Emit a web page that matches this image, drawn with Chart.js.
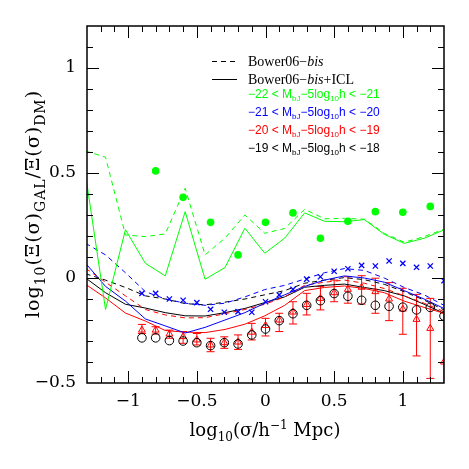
<!DOCTYPE html>
<html>
<head>
<meta charset="utf-8">
<script src="https://cdn.jsdelivr.net/npm/chart.js@4.4.0/dist/chart.umd.min.js"></script>
<style>
  html, body { margin: 0; padding: 0; background: #fff; }
</style>
</head>
<body>
<canvas id="chart" width="469" height="469"></canvas>
<script>
// model curves (Bower06-bis), sampled on a log grid
const modelX = [-1.31, -1.165, -1.02, -0.875, -0.73, -0.585, -0.44, -0.295, -0.15, -0.005,
  0.14, 0.285, 0.43, 0.575, 0.72, 0.865, 1.01, 1.155, 1.30];
const greenDashed = [0.605, 0.575, 0.205, 0.197, 0.21, 0.427, 0.11, 0.19, 0.30, 0.213,
  0.236, 0.327, 0.282, 0.284, 0.28, 0.213, 0.17, 0.197, 0.232];
const greenSolid = [0.49, -0.15, 0.23, 0.07, 0.01, 0.316, -0.006, 0.05, 0.237, 0.118,
  0.19, 0.31, 0.27, 0.268, 0.278, 0.208, 0.165, 0.189, 0.229];
const blueDashed = [0.165, 0.11, 0.025, -0.065, -0.10, -0.12, -0.13, -0.12, -0.09, -0.055,
  -0.035, -0.005, 0.025, 0.045, 0.036, 0.0, -0.045, -0.08, -0.13];
const blueSolid = [0.07, -0.04, -0.11, -0.195, -0.228, -0.262, -0.235, -0.20, -0.165, -0.12,
  -0.08, -0.04, -0.01, 0.01, 0.0, -0.02, -0.06, -0.10, -0.145];
const redDashed = [0.046, -0.02, -0.085, -0.15, -0.176, -0.19, -0.189, -0.17, -0.15, -0.125,
  -0.09, -0.035, -0.02, -0.01, -0.025, -0.05, -0.085, -0.12, -0.16];
const redSolid = [-0.03, -0.095, -0.167, -0.205, -0.25, -0.258, -0.26, -0.245, -0.22, -0.18,
  -0.13, -0.06, -0.045, -0.038, -0.05, -0.07, -0.11, -0.14, -0.168];
const blackDashed = [0.02, -0.01, -0.045, -0.085, -0.10, -0.122, -0.128, -0.115, -0.10, -0.08,
  -0.06, -0.025, -0.01, 0.002, -0.008, -0.03, -0.065, -0.105, -0.152];
const blackSolid = [0.0, -0.07, -0.125, -0.143, -0.165, -0.18, -0.181, -0.165, -0.145, -0.117,
  -0.09, -0.044, -0.035, -0.029, -0.045, -0.06, -0.085, -0.125, -0.168];

// observed points
const greenDotX = [-0.8, -0.6, -0.4, -0.2, 0, 0.2, 0.4, 0.6, 0.8, 1.0, 1.2];
const greenDotY = [0.51, 0.384, 0.265, 0.11, 0.265, 0.31, 0.189, 0.27, 0.316, 0.313, 0.341];
const obsX = [-0.9, -0.8, -0.7, -0.6, -0.5, -0.4, -0.3, -0.2, -0.1, 0, 0.1, 0.2,
  0.3, 0.4, 0.5, 0.6, 0.7, 0.8, 0.9, 1.0, 1.1, 1.2, 1.3];
const blueCrossY = [-0.073, -0.073, -0.10, -0.106, -0.117, -0.149, -0.163, -0.16, -0.163, -0.113, -0.08, -0.054,
  -0.005, 0.006, 0.032, 0.044, 0.06, 0.057, 0.081, 0.07, 0.051, 0.057, -0.013];
const blackCircleY = [-0.285, -0.285, -0.298, -0.30, -0.308, -0.322, -0.308, -0.314, -0.271, -0.243, -0.203, -0.17,
  -0.13, -0.108, -0.074, -0.087, -0.106, -0.13, -0.135, -0.139, -0.152, -0.14, -0.181];
const redTriY = [-0.248, -0.248, -0.267, -0.279, -0.295, -0.319, -0.308, -0.305, -0.258, -0.226, -0.2, -0.162,
  -0.126, -0.097, -0.07, -0.054, -0.044, -0.065, -0.1, -0.148, -0.197, -0.24, -0.40];
const redLo = [-0.264, -0.267, -0.287, -0.311, -0.319, -0.351, -0.335, -0.340, -0.295, -0.276, -0.255, -0.219,
  -0.176, -0.152, -0.113, -0.12, -0.124, -0.168, -0.203, -0.268, -0.371, -0.478, -0.75];
const redHi = [-0.221, -0.232, -0.248, -0.255, -0.264, -0.287, -0.280, -0.271, -0.216, -0.192, -0.168, -0.113,
  -0.073, -0.041, -0.01, 0.006, 0.011, -0.001, -0.022, -0.049, -0.078, -0.097, -0.167];

const xTicks = [-1, -0.5, 0, 0.5, 1];
const yTicks = [-0.5, 0, 0.5, 1];

const GREEN = '#00ff00', BLUE = '#0000ff', RED = '#ff0000', BLACK = '#000000';
const SERIF = '"DejaVu Serif", serif';

function pts(xs, ys) {
  return xs.map((x, i) => ({ x: x, y: ys[i] }));
}

function curve(ys, color, dashed) {
  return {
    data: pts(modelX, ys), showLine: true, borderColor: color, borderWidth: 1,
    borderDash: dashed ? [5, 4] : [], pointRadius: 0, tension: 0, clip: 0
  };
}

const fmt = v => (v < 0 ? '\u2212' : '') + Math.abs(v);

// draws text made of pieces: [text, kind] with kind '', 'it', 'sub', 'sup'
function rich(ctx, parts, x, y, size, family, align, subScale) {
  const small = Math.round(size * (subScale || 0.65));
  const font = k => (k === 'it' ? 'italic ' : '') + (k === 'sub' || k === 'sup' ? small : size) + 'px ' + family;
  let w = 0;
  parts.forEach(p => { ctx.font = font(p[1]); w += ctx.measureText(p[0]).width; });
  let cx = align === 'center' ? x - w / 2 : x;
  ctx.textAlign = 'left';
  ctx.textBaseline = 'alphabetic';
  parts.forEach(p => {
    ctx.font = font(p[1]);
    const dy = p[1] === 'sub' ? size * 0.3 : p[1] === 'sup' ? -size * 0.4 : 0;
    ctx.fillText(p[0], cx, y + dy);
    cx += ctx.measureText(p[0]).width;
  });
}

const errorBars = {
  id: 'errorBars',
  beforeDatasetsDraw(chart) {
    const { ctx, chartArea: a, scales: { x, y } } = chart;
    ctx.save();
    ctx.beginPath();
    ctx.rect(a.left, a.top, a.right - a.left, a.bottom - a.top);
    ctx.clip();
    ctx.strokeStyle = RED;
    ctx.lineWidth = 1;
    obsX.forEach((v, i) => {
      const px = x.getPixelForValue(v);
      const lo = y.getPixelForValue(redLo[i]);
      const hi = y.getPixelForValue(redHi[i]);
      ctx.beginPath();
      ctx.moveTo(px, lo); ctx.lineTo(px, hi);
      ctx.moveTo(px - 4, lo); ctx.lineTo(px + 4, lo);
      ctx.moveTo(px - 4, hi); ctx.lineTo(px + 4, hi);
      ctx.stroke();
    });
    ctx.restore();
  }
};

const frame = {
  id: 'frame',
  afterDraw(chart) {
    const { ctx, chartArea: a, scales: { x, y } } = chart;
    ctx.save();
    ctx.strokeStyle = '#000';
    ctx.lineWidth = 1;
    ctx.beginPath();
    for (let i = -12; i <= 12; i++) {
      const px = Math.round(x.getPixelForValue(i / 10)) + 0.5;
      const len = i % 5 === 0 ? 12 : 6;
      ctx.moveTo(px, a.bottom); ctx.lineTo(px, a.bottom - len);
      ctx.moveTo(px, a.top); ctx.lineTo(px, a.top + len);
    }
    for (let i = -4; i <= 11; i++) {
      const py = Math.round(y.getPixelForValue(i / 10)) + 0.5;
      const len = i % 5 === 0 ? 12 : 6;
      ctx.moveTo(a.left, py); ctx.lineTo(a.left + len, py);
      ctx.moveTo(a.right, py); ctx.lineTo(a.right - len, py);
    }
    ctx.stroke();
    ctx.lineWidth = 1.5;
    ctx.strokeRect(a.left, a.top, a.right - a.left, a.bottom - a.top);

    // axis titles
    ctx.fillStyle = '#000';
    rich(ctx, [['log', ''], ['10', 'sub'], ['(\u03c3/h', ''], ['\u22121', 'sup'], [' Mpc)', '']],
      265, 436, 18, SERIF, 'center');
    ctx.save();
    ctx.translate(39, 204);
    ctx.rotate(-Math.PI / 2);
    ctx.letterSpacing = '1px';
    rich(ctx, [['log', ''], ['10', 'sub'], ['(\u039e(\u03c3)', ''], ['GAL', 'sub'], ['/\u039e(\u03c3)', ''],
      ['DM', 'sub'], [')', '']], 0, 0, 19, SERIF, 'center', 0.72);
    ctx.restore();

    // key
    ctx.strokeStyle = '#000';
    ctx.lineWidth = 1;
    ctx.setLineDash([5, 4]);
    ctx.beginPath(); ctx.moveTo(212, 61.5); ctx.lineTo(236, 61.5); ctx.stroke();
    ctx.setLineDash([]);
    ctx.beginPath(); ctx.moveTo(212, 79.5); ctx.lineTo(237, 79.5); ctx.stroke();
    const LSERIF = '"Liberation Serif", serif';
    rich(ctx, [['Bower06\u2212', ''], ['bis', 'it']], 248, 66, 14, LSERIF, 'left');
    rich(ctx, [['Bower06\u2212', ''], ['bis', 'it'], ['+ICL', '']], 248, 84, 14, LSERIF, 'left');
    const LSANS = '"Liberation Sans", sans-serif';
    const rows = [['\u221222', '\u221221', GREEN], ['\u221221', '\u221220', BLUE],
      ['\u221220', '\u221219', RED], ['\u221219', '\u221218', BLACK]];
    rows.forEach((r, i) => {
      ctx.fillStyle = r[2];
      rich(ctx, [[r[0] + ' < M', ''], ['bJ', 'sub'], ['\u22125log', ''], ['10', 'sub'], ['h < ' + r[1], '']],
        248, 97.5 + i * 18, 12, LSANS, 'left');
    });
    ctx.restore();
  }
};

const datasets = [
  { data: pts(greenDotX, greenDotY), pointStyle: 'circle', pointRadius: 3.8, backgroundColor: GREEN,
    borderWidth: 0, clip: 0 },
  { data: pts(obsX, blueCrossY), pointStyle: 'crossRot', pointRadius: 3.7, borderColor: BLUE,
    borderWidth: 1.3, clip: 0 },
  { data: pts(obsX, blackCircleY), pointStyle: 'circle', pointRadius: 4.3, borderColor: BLACK,
    backgroundColor: 'rgba(0,0,0,0)', borderWidth: 1, clip: 0 },
  { data: pts(obsX, redTriY), pointStyle: 'triangle', pointRadius: 4, borderColor: RED,
    backgroundColor: 'rgba(0,0,0,0)', borderWidth: 1, clip: 0 },
  curve(greenDashed, GREEN, true),
  curve(greenSolid, GREEN, false),
  curve(blueDashed, BLUE, true),
  curve(blueSolid, BLUE, false),
  curve(redDashed, RED, true),
  curve(redSolid, RED, false),
  curve(blackDashed, BLACK, true),
  curve(blackSolid, BLACK, false)
];

new Chart(document.getElementById('chart'), {
  type: 'scatter',
  data: { datasets: datasets },
  options: {
    responsive: false,
    animation: false,
    events: [],
    layout: { padding: { left: 0, top: 26, right: 25, bottom: 0 } },
    plugins: { legend: { display: false }, tooltip: { enabled: false } },
    scales: {
      x: {
        type: 'linear', min: -1.3, max: 1.3,
        grid: { display: false, drawTicks: false },
        border: { display: false },
        afterBuildTicks: s => { s.ticks = xTicks.map(v => ({ value: v })); },
        afterFit: s => { s.height = 86; },
        ticks: { font: { family: SERIF, size: 17 }, color: '#000', padding: 8,
          maxRotation: 0, autoSkip: false, callback: fmt }
      },
      y: {
        type: 'linear', min: -0.5, max: 1.2,
        grid: { display: false, drawTicks: false },
        border: { display: false },
        afterBuildTicks: s => { s.ticks = yTicks.map(v => ({ value: v })); },
        afterFit: s => { s.width = 87; },
        ticks: { font: { family: SERIF, size: 17 }, color: '#000', padding: 11,
          autoSkip: false, callback: fmt }
      }
    }
  },
  plugins: [errorBars, frame]
});
</script>
</body>
</html>
